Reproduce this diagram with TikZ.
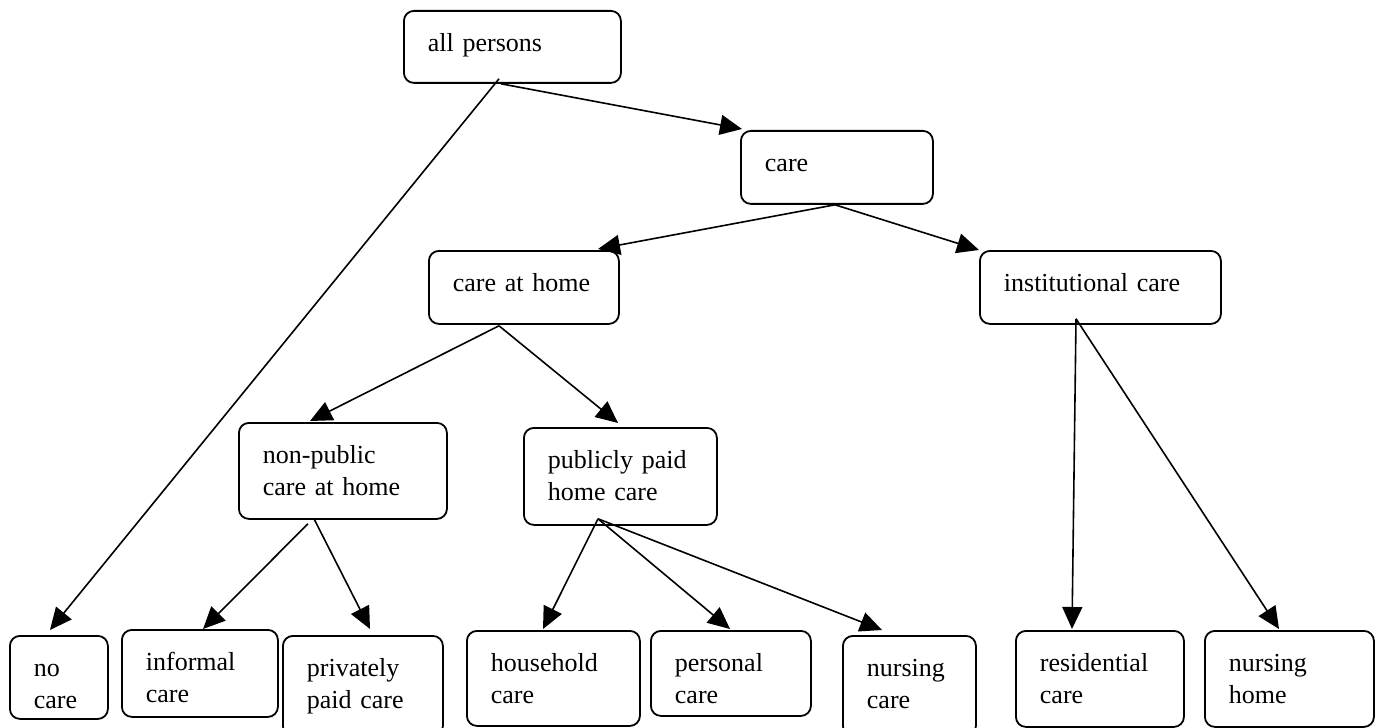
\documentclass[tikz,border=0pt]{standalone}
\usepackage{fontspec}
\setmainfont{Liberation Serif}
\usetikzlibrary{arrows.meta}

\begin{document}
\begin{tikzpicture}[x=0.5pt,y=-0.5pt,line width=.9pt,
  box/.style 2 args={draw,rounded corners=5pt,anchor=north west,align=left,inner xsep=12pt,inner ysep=0pt,
    font=\fontsize{13}{16}\selectfont,text height=20.5pt,text width=#1,text depth=#2},
  arr/.style={line width=.8pt,-{Triangle[length=11pt,width=10pt]}}]
\useasboundingbox (0,0) rectangle (1379,727);
% top levels
\node[box={84.5pt}{15.5pt}] (ap) at (403,10) {all persons};
\node[box={72pt}{16pt}] (care) at (740,130) {care};
\node[box={71pt}{16pt}] (home) at (428,250) {care at home};
\node[box={96.5pt}{16pt}] (inst) at (979,250) {institutional care};
\node[box={80pt}{27.5pt}] (nonpub) at (238,422) {non-public\\care at home};
\node[box={72.5pt}{28pt}] (pub) at (523,427) {publicly paid\\home care};
% bottom row
\node[box={25pt}{21pt}] (nocare) at (9,635) {no\\care};
\node[box={54pt}{23pt}] (informal) at (121,629) {informal\\care};
\node[box={56pt}{29.5pt}] (private) at (282,635) {privately\\paid care};
\node[box={62.5pt}{27pt}] (household) at (466,630) {household\\care};
\node[box={56pt}{22pt}] (personal) at (650,630) {personal\\care};
\node[box={42.5pt}{29.5pt}] (nursecare) at (842,635) {nursing\\care};
\node[box={60pt}{27.5pt}] (resid) at (1015,630) {residential\\care};
\node[box={60.5pt}{27.5pt}] (nhome) at (1204,630) {nursing\\home};
% arrows
\foreach \a/\ax/\ay/\b/\bx/\by in {ap/96/-5/nocare/41/-5, ap/98/0/care/2/-1, care/95/0/home/170/-1,
  care/95/0/inst/0/0, home/71/1/nonpub/72/-1, home/71/1/pub/95/-4, nonpub/70/4/informal/82/0,
  nonpub/76/-1/private/88/-6, pub/75/-7/household/77/-1, pub/75/-7/personal/80/-1,
  pub/75/-7/nursecare/40/-5, inst/97/-6/resid/57/-1, inst/97/-6/nhome/75/-1}
  \draw[arr] ([shift={(\ax,\ay)}]\a.south west) -- ([shift={(\bx,\by)}]\b.north west);
\end{tikzpicture}
\end{document}
